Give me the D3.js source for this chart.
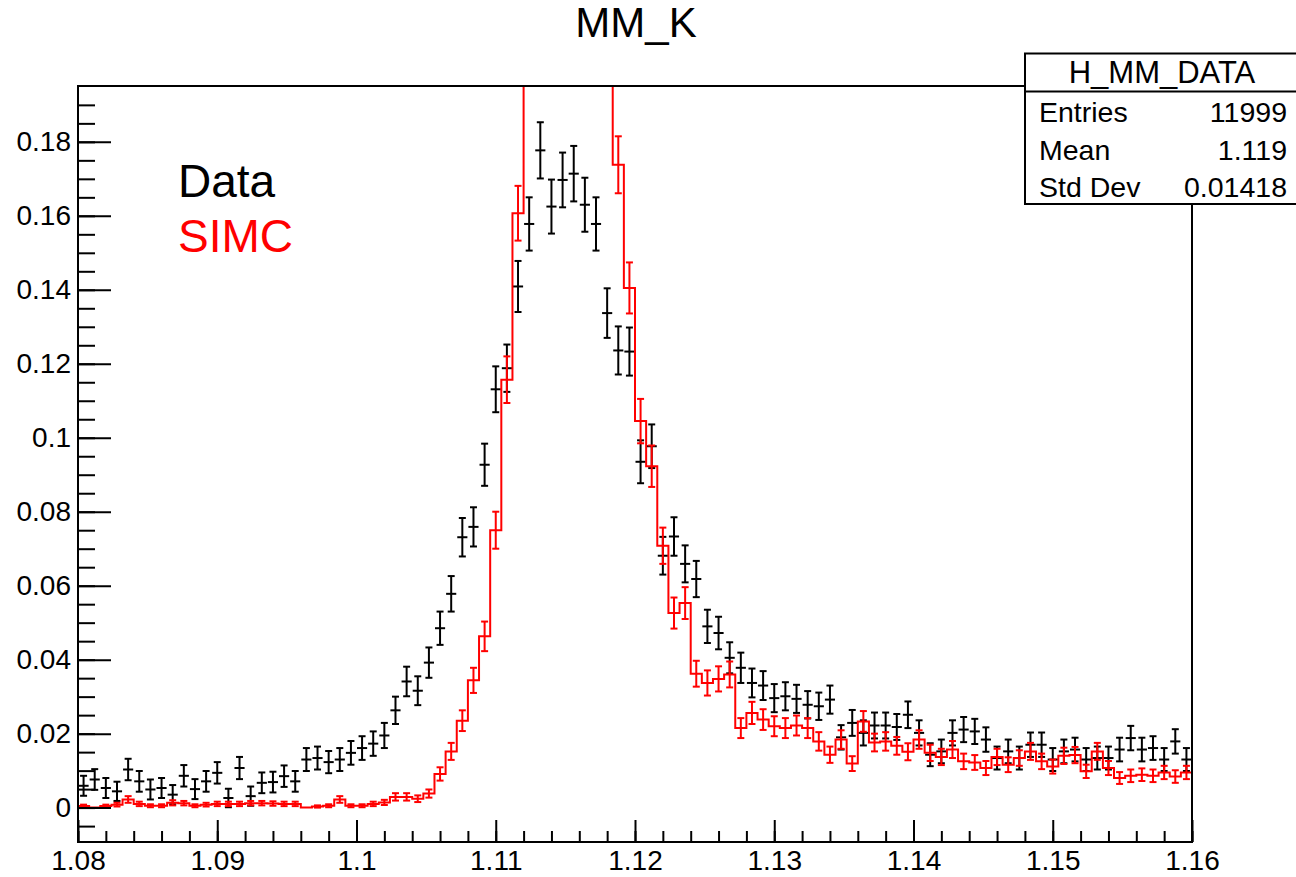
<!DOCTYPE html>
<html><head><meta charset="utf-8">
<script src="https://cdn.jsdelivr.net/npm/d3@7"></script>
<style>
body{margin:0;background:#fff}
svg{display:block}
text{font-family:"Liberation Sans",Arial,Helvetica,sans-serif}
</style>
</head><body>
<svg id="c" width="1296" height="877"></svg>
<script>
// ---- histogram binning ----
const binLow = 1.08;
const binWidth = 0.0008;

// ---- Data (black points with error bars) ----
const dataValues = [
0.0059,0.0076,0.0053,0.0044,0.0103,0.0071,0.0049,0.0053,0.0035,0.0086,
0.0050,0.0071,0.0094,0.0026,0.0107,0.0031,0.0067,0.0069,0.0085,0.0071,
0.0130,0.0134,0.0123,0.0130,0.0148,0.0161,0.0173,0.0195,0.0263,0.0341,
0.0316,0.0392,0.0485,0.0578,0.0731,0.0759,0.0927,0.1131,0.1188,0.1409,
0.1578,0.1777,0.1625,0.1697,0.1714,0.1630,0.1578,0.1337,0.1236,0.1233,
0.0935,0.0977,0.0681,0.0733,0.0659,0.0618,0.0490,0.0472,0.0405,0.0378,
0.0337,0.0330,0.0296,0.0301,0.0294,0.0278,0.0274,0.0292,0.0190,0.0229,
0.0202,0.0222,0.0222,0.0218,0.0251,0.0202,0.0143,0.0152,0.0202,0.0211,
0.0206,0.0184,0.0134,0.0152,0.0134,0.0170,0.0170,0.0130,0.0152,0.0157,
0.0130,0.0134,0.0134,0.0157,0.0188,0.0157,0.0161,0.0130,0.0179,0.0130
];
const dataErrors = [
0.0027,0.0028,0.0027,0.0026,0.0029,0.0028,0.0027,0.0027,0.0026,0.0029,
0.0027,0.0028,0.0029,0.0025,0.0030,0.0026,0.0028,0.0028,0.0029,0.0028,
0.0031,0.0031,0.0030,0.0031,0.0032,0.0032,0.0033,0.0034,0.0037,0.0040,
0.0039,0.0041,0.0045,0.0048,0.0052,0.0053,0.0057,0.0062,0.0064,0.0069,
0.0072,0.0076,0.0073,0.0074,0.0075,0.0073,0.0072,0.0067,0.0065,0.0065,
0.0058,0.0059,0.0051,0.0052,0.0050,0.0049,0.0045,0.0044,0.0042,0.0041,
0.0039,0.0039,0.0038,0.0038,0.0038,0.0037,0.0037,0.0038,0.0033,0.0035,
0.0034,0.0035,0.0035,0.0035,0.0036,0.0034,0.0031,0.0032,0.0034,0.0034,
0.0034,0.0033,0.0031,0.0032,0.0031,0.0033,0.0033,0.0031,0.0032,0.0032,
0.0031,0.0031,0.0031,0.0032,0.0033,0.0032,0.0032,0.0031,0.0033,0.0031
];

// ---- SIMC (red histogram with error bars) ----
const simcValues = [
0.0004,0.0000,0.0004,0.0008,0.0022,0.0010,0.0005,0.0005,0.0013,0.0012,
0.0005,0.0008,0.0010,0.0010,0.0010,0.0012,0.0012,0.0011,0.0010,0.0010,
0.0000,0.0003,0.0005,0.0022,0.0005,0.0005,0.0010,0.0014,0.0029,0.0029,
0.0024,0.0038,0.0091,0.0152,0.0235,0.0344,0.0463,0.0750,0.1157,0.1607,
0.215,0.262,0.291,0.305,0.302,0.283,0.248,0.207,0.1738,0.1405,
0.1045,0.0923,0.0708,0.0526,0.0553,0.0362,0.0337,0.0348,0.0360,0.0215,
0.0256,0.0238,0.0220,0.0215,0.0222,0.0215,0.0179,0.0143,0.0184,0.0119,
0.0233,0.0176,0.0179,0.0167,0.0151,0.0184,0.0148,0.0137,0.0157,0.0125,
0.0122,0.0107,0.0137,0.0116,0.0134,0.0152,0.0125,0.0111,0.0140,0.0142,
0.0098,0.0152,0.0107,0.0080,0.0086,0.0089,0.0086,0.0095,0.0084,0.0095
];
const simcErrors = [
0.0004,0.0000,0.0004,0.0005,0.0009,0.0006,0.0004,0.0004,0.0007,0.0006,
0.0004,0.0005,0.0006,0.0006,0.0006,0.0006,0.0006,0.0006,0.0006,0.0006,
0.0000,0.0003,0.0004,0.0009,0.0004,0.0004,0.0006,0.0007,0.0010,0.0010,
0.0009,0.0011,0.0018,0.0023,0.0028,0.0034,0.0040,0.0050,0.0063,0.0074,
0.0085,0.0094,0.0099,0.0102,0.0101,0.0098,0.0092,0.0084,0.0077,0.0069,
0.0060,0.0056,0.0049,0.0042,0.0043,0.0035,0.0034,0.0034,0.0035,0.0027,
0.0030,0.0028,0.0027,0.0027,0.0027,0.0027,0.0025,0.0022,0.0025,0.0020,
0.0028,0.0024,0.0025,0.0024,0.0023,0.0025,0.0022,0.0022,0.0023,0.0021,
0.0020,0.0019,0.0022,0.0020,0.0021,0.0023,0.0021,0.0019,0.0022,0.0022,
0.0018,0.0023,0.0019,0.0016,0.0017,0.0017,0.0017,0.0018,0.0017,0.0018
];

// ---- axes / labels ----
const xTicks = [1.08,1.09,1.10,1.11,1.12,1.13,1.14,1.15,1.16];
const xTickLabels = ["1.08","1.09","1.1","1.11","1.12","1.13","1.14","1.15","1.16"];
const yTicks = [0,0.02,0.04,0.06,0.08,0.10,0.12,0.14,0.16,0.18];
const yTickLabels = ["0","0.02","0.04","0.06","0.08","0.1","0.12","0.14","0.16","0.18"];
const xDomain = [1.08,1.16];
const yDomain = [-0.0093,0.1951];
const titleText = "MM_K";
const legendLabels = ["Data","SIMC"];
const statsTitle = "H_MM_DATA";
const statsNames = ["Entries","Mean","Std Dev"];
const statsValues = ["11999","1.119","0.01418"];

// ---- layout ----
const L = 78, R = 1192, T = 86, B = 842;
const RED = "#ff0000";
const svg = d3.select("#c");
const x = d3.scaleLinear().domain(xDomain).range([L, R]);
const y = d3.scaleLinear().domain(yDomain).range([B, T]);

svg.append("rect").attr("width",1296).attr("height",877).attr("fill","#fff");

svg.append("defs").append("clipPath").attr("id","frameClip")
  .append("rect").attr("x",L).attr("y",T).attr("width",R-L).attr("height",B-T);

const bins = dataValues.map((v,i)=>({
  lo: binLow + i*binWidth,
  hi: binLow + (i+1)*binWidth,
  c: binLow + (i+0.5)*binWidth,
  d: v, de: dataErrors[i],
  s: simcValues[i], se: simcErrors[i]
}));

const plot = svg.append("g").attr("clip-path","url(#frameClip)");

// data points (black)
const gd = plot.append("g").attr("stroke","#000").attr("stroke-width",2).attr("fill","none");
const cap = 3.5;
bins.forEach(b=>{
  const cx = x(b.c);
  gd.append("line").attr("x1",x(b.lo)+0.5).attr("x2",x(b.hi)-0.5).attr("y1",y(b.d)).attr("y2",y(b.d));
  gd.append("line").attr("x1",cx).attr("x2",cx).attr("y1",y(b.d-b.de)).attr("y2",y(b.d+b.de));
  gd.append("line").attr("x1",cx-cap).attr("x2",cx+cap).attr("y1",y(b.d-b.de)).attr("y2",y(b.d-b.de));
  gd.append("line").attr("x1",cx-cap).attr("x2",cx+cap).attr("y1",y(b.d+b.de)).attr("y2",y(b.d+b.de));
});

// SIMC histogram (red step + error bars)
const stepPts = [];
bins.forEach(b=>{ stepPts.push([x(b.lo), y(b.s)]); stepPts.push([x(b.hi), y(b.s)]); });
plot.append("path").attr("d", d3.line()(stepPts))
  .attr("fill","none").attr("stroke",RED).attr("stroke-width",2);
const gs = plot.append("g").attr("stroke",RED).attr("stroke-width",2).attr("fill","none");
bins.forEach(b=>{
  if (b.se <= 0) return;
  const cx = x(b.c);
  gs.append("line").attr("x1",cx).attr("x2",cx).attr("y1",y(b.s-b.se)).attr("y2",y(b.s+b.se));
  gs.append("line").attr("x1",cx-cap).attr("x2",cx+cap).attr("y1",y(b.s-b.se)).attr("y2",y(b.s-b.se));
  gs.append("line").attr("x1",cx-cap).attr("x2",cx+cap).attr("y1",y(b.s+b.se)).attr("y2",y(b.s+b.se));
});

// frame
svg.append("rect").attr("x",L).attr("y",T).attr("width",R-L).attr("height",B-T)
  .attr("fill","none").attr("stroke","#000").attr("stroke-width",2);

// axes
function styleAxis(g){
  g.select(".domain").remove();
  g.selectAll(".tick line").attr("stroke","#000").attr("stroke-width",2);
  g.selectAll("text").attr("fill","#000").attr("font-size",28)
    .attr("font-family",'"Liberation Sans",Arial,Helvetica,sans-serif');
}
const xMinor = d3.range(0,41).map(i=>binLow + i*0.002);
const yMinor = d3.range(-1,39).map(i=>i*0.005).filter(v=>v>=yDomain[0]&&v<=yDomain[1]);

svg.append("g").attr("transform",`translate(0,${B})`)
  .call(d3.axisBottom(x).tickValues(xMinor).tickFormat("").tickSizeInner(-11).tickSizeOuter(0))
  .call(styleAxis);
svg.append("g").attr("transform",`translate(0,${B})`)
  .call(d3.axisBottom(x).tickValues(xTicks).tickFormat((d,i)=>xTickLabels[i]).tickSizeInner(-22).tickSizeOuter(0).tickPadding(8))
  .call(styleAxis);
svg.append("g").attr("transform",`translate(${L},0)`)
  .call(d3.axisLeft(y).tickValues(yMinor).tickFormat("").tickSizeInner(-17).tickSizeOuter(0))
  .call(styleAxis);
svg.append("g").attr("transform",`translate(${L},0)`)
  .call(d3.axisLeft(y).tickValues(yTicks).tickFormat((d,i)=>yTickLabels[i]).tickSizeInner(-33).tickSizeOuter(0).tickPadding(7))
  .call(styleAxis);

// title
svg.append("text").attr("x",636).attr("y",37).attr("text-anchor","middle")
  .attr("font-size",42).attr("fill","#000").text(titleText);

// legend texts
svg.append("text").attr("x",178).attr("y",197).attr("font-size",46).attr("fill","#000").text(legendLabels[0]);
svg.append("text").attr("x",178).attr("y",252).attr("font-size",46).attr("fill",RED).text(legendLabels[1]);

// stats box
const sb = svg.append("g");
sb.append("rect").attr("x",1025).attr("y",53.5).attr("width",300).attr("height",150.5)
  .attr("fill","#fff").attr("stroke","#000").attr("stroke-width",2);
sb.append("line").attr("x1",1025).attr("x2",1296).attr("y1",91.5).attr("y2",91.5)
  .attr("stroke","#000").attr("stroke-width",2);
sb.append("text").attr("x",1162).attr("y",83).attr("text-anchor","middle")
  .attr("font-size",31).attr("fill","#000").text(statsTitle);
statsNames.forEach((n,i)=>{
  const by = 122 + i*37.5;
  sb.append("text").attr("x",1039).attr("y",by).attr("font-size",28.5).attr("fill","#000").text(n);
  sb.append("text").attr("x",1287).attr("y",by).attr("text-anchor","end").attr("font-size",28.5).attr("fill","#000").text(statsValues[i]);
});
</script>
</body></html>
